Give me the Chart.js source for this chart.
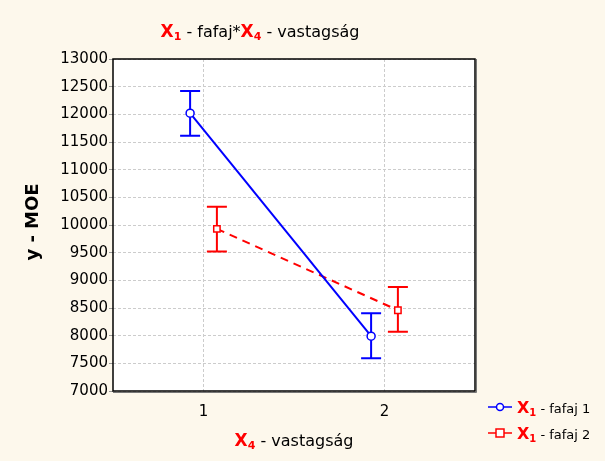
<!DOCTYPE html>
<html>
<head>
<meta charset="utf-8">
<script src="https://cdn.jsdelivr.net/npm/chart.js@4/dist/chart.umd.min.js"></script>
<style>
  html, body { margin: 0; padding: 0; background: #fdf8ec; }
  #wrap { width: 605px; height: 461px; }
</style>
</head>
<body>
<div id="wrap"><canvas id="chart" width="605" height="461"></canvas></div>
<script>
  // X4 - vastagság levels
  var LEVELS = [1, 2];
  // fafaj 1 (blue) means and error limits
  var FAFAJ1_MEAN = [12020, 7990];
  var FAFAJ1_LOW = [11615, 7590];
  var FAFAJ1_HIGH = [12420, 8405];
  // fafaj 2 (red) means and error limits
  var FAFAJ2_MEAN = [9930, 8460];
  var FAFAJ2_LOW = [9520, 8070];
  var FAFAJ2_HIGH = [10330, 8880];
  var Y_TICKS = [7000, 7500, 8000, 8500, 9000, 9500, 10000, 10500, 11000, 11500, 12000, 12500, 13000];

  var SHIFT = 0.074; // series are drawn slightly apart around each level
  var FONT = '"DejaVu Sans", "Liberation Sans", Arial, sans-serif';
  var BLUE = '#0000ff';
  var RED = '#ff0000';

  function points(means, dx) {
    return LEVELS.map(function (lv, i) { return {x: lv + dx, y: means[i]}; });
  }

  function drawRich(ctx, parts, x, y, align) {
    var width = 0;
    parts.forEach(function (p) { ctx.font = p.font; width += ctx.measureText(p.text).width; });
    var cx = align === 'center' ? x - width / 2 : x;
    ctx.textAlign = 'left';
    ctx.textBaseline = 'alphabetic';
    parts.forEach(function (p) {
      ctx.font = p.font;
      ctx.fillStyle = p.color;
      ctx.fillText(p.text, cx, y + (p.dy || 0));
      cx += ctx.measureText(p.text).width;
    });
  }

  function xSub(num, big, small) {
    return [
      {text: 'X', font: 'bold ' + big + 'px ' + FONT, color: RED},
      {text: num, font: 'bold ' + small + 'px ' + FONT, color: RED, dy: 3}
    ];
  }

  var decorations = {
    id: 'decorations',
    beforeDraw: function (chart) {
      var ctx = chart.ctx, a = chart.chartArea;
      ctx.save();
      ctx.fillStyle = '#fdf8ec';
      ctx.fillRect(0, 0, chart.width, chart.height);
      ctx.fillStyle = '#ffffff';
      ctx.fillRect(a.left, a.top, a.right - a.left, a.bottom - a.top);
      ctx.restore();
    },
    beforeDatasetsDraw: function (chart) {
      var ctx = chart.ctx, xs = chart.scales.x, ys = chart.scales.y;
      var sets = [
        {low: FAFAJ1_LOW, high: FAFAJ1_HIGH, dx: -SHIFT, color: BLUE},
        {low: FAFAJ2_LOW, high: FAFAJ2_HIGH, dx: SHIFT, color: RED}
      ];
      ctx.save();
      ctx.lineWidth = 2;
      sets.forEach(function (s) {
        ctx.strokeStyle = s.color;
        LEVELS.forEach(function (lv, i) {
          var px = xs.getPixelForValue(lv + s.dx);
          var top = ys.getPixelForValue(s.high[i]);
          var bot = ys.getPixelForValue(s.low[i]);
          ctx.beginPath();
          ctx.moveTo(px, top); ctx.lineTo(px, bot);
          ctx.moveTo(px - 10, top); ctx.lineTo(px + 10, top);
          ctx.moveTo(px - 10, bot); ctx.lineTo(px + 10, bot);
          ctx.stroke();
        });
      });
      ctx.restore();
    },
    afterDraw: function (chart) {
      var ctx = chart.ctx, a = chart.chartArea;
      ctx.save();
      // frame with a soft shadow on right and bottom
      ctx.strokeStyle = '#777777';
      ctx.lineWidth = 1;
      ctx.beginPath();
      ctx.moveTo(a.right + 1.5, a.top); ctx.lineTo(a.right + 1.5, a.bottom + 1.5); ctx.lineTo(a.left, a.bottom + 1.5);
      ctx.stroke();
      ctx.strokeStyle = '#000000';
      ctx.lineWidth = 1.5;
      ctx.strokeRect(a.left, a.top, a.right - a.left, a.bottom - a.top);

      // title
      var title = xSub('1', 17, 11)
        .concat([{text: ' - fafaj*', font: '16px ' + FONT, color: '#000'}])
        .concat(xSub('4', 17, 11))
        .concat([{text: ' - vastagság', font: '16px ' + FONT, color: '#000'}]);
      drawRich(ctx, title, 260, 37, 'center');

      // x axis title
      var xt = xSub('4', 17, 11).concat([{text: ' - vastagság', font: '16px ' + FONT, color: '#000'}]);
      drawRich(ctx, xt, (a.left + a.right) / 2, 446, 'center');

      // y axis title
      ctx.save();
      ctx.translate(38, (a.top + a.bottom) / 2 - 3);
      ctx.rotate(-Math.PI / 2);
      ctx.font = 'bold 18px ' + FONT;
      ctx.fillStyle = '#000';
      ctx.textAlign = 'center';
      ctx.textBaseline = 'alphabetic';
      ctx.fillText('y - MOE', 0, 0);
      ctx.restore();

      // legend
      var items = [
        {label: ' - fafaj 1', color: BLUE, y: 407, square: false},
        {label: ' - fafaj 2', color: RED, y: 433, square: true}
      ];
      items.forEach(function (it) {
        ctx.strokeStyle = it.color;
        ctx.lineWidth = 1.5;
        ctx.beginPath();
        ctx.moveTo(488, it.y); ctx.lineTo(512, it.y);
        ctx.stroke();
        ctx.fillStyle = '#fff';
        ctx.beginPath();
        if (it.square) {
          ctx.rect(496, it.y - 4, 8, 8);
        } else {
          ctx.arc(500, it.y, 3.5, 0, Math.PI * 2);
        }
        ctx.fill();
        ctx.stroke();
        var parts = xSub('1', 16, 10).concat([{text: it.label, font: '13px ' + FONT, color: '#000'}]);
        drawRich(ctx, parts, 517, it.y + 6, 'left');
      });
      ctx.restore();
    }
  };

  new Chart(document.getElementById('chart'), {
    type: 'scatter',
    data: {
      datasets: [
        {
          label: 'fafaj 1',
          data: points(FAFAJ1_MEAN, -SHIFT),
          showLine: true,
          borderColor: BLUE,
          borderWidth: 2,
          pointStyle: 'circle',
          pointRadius: 4,
          pointBorderWidth: 1.5,
          pointBackgroundColor: '#ffffff',
          pointBorderColor: BLUE
        },
        {
          label: 'fafaj 2',
          data: points(FAFAJ2_MEAN, SHIFT),
          showLine: true,
          borderColor: RED,
          borderWidth: 2,
          borderDash: [8, 6],
          pointStyle: 'rect',
          pointRadius: 4.5,
          pointBorderWidth: 1.5,
          pointBackgroundColor: '#ffffff',
          pointBorderColor: RED
        }
      ]
    },
    options: {
      responsive: false,
      animation: false,
      events: [],
      layout: {padding: {top: 59, right: 130, left: 0, bottom: 0}},
      plugins: {legend: {display: false}, title: {display: false}, tooltip: {enabled: false}},
      scales: {
        x: {
          type: 'linear',
          min: 0.5,
          max: 2.5,
          afterBuildTicks: function (scale) {
            scale.ticks = LEVELS.map(function (v) { return {value: v}; });
          },
          afterFit: function (scale) { scale.height = 70; },
          border: {display: false, dash: [3, 2]},
          grid: {color: '#cccccc', lineWidth: 1, tickLength: 0, drawTicks: false},
          ticks: {color: '#000', padding: 12, font: {family: FONT, size: 15},
            callback: function (v) { return String(v); }}
        },
        y: {
          type: 'linear',
          min: 7000,
          max: 13000,
          afterBuildTicks: function (scale) {
            scale.ticks = Y_TICKS.map(function (v) { return {value: v}; });
          },
          afterFit: function (scale) { scale.width = 113; },
          border: {display: false, dash: [3, 2]},
          grid: {color: '#cccccc', lineWidth: 1, tickLength: 4, tickColor: '#999999'},
          ticks: {color: '#000', padding: 1, font: {family: FONT, size: 15},
            callback: function (v) { return String(v); }}
        }
      }
    },
    plugins: [decorations]
  });
</script>
</body>
</html>
